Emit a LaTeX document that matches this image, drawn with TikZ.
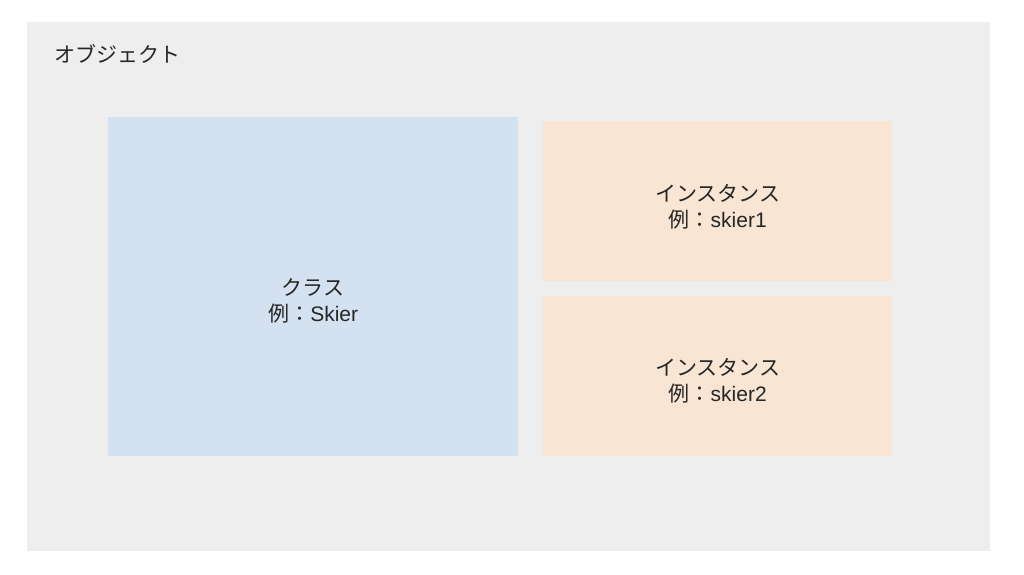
\documentclass[tikz,border=0pt]{standalone}
\usepackage{fontspec}
\setmainfont{Liberation Sans}
\newfontfamily\jp{Noto Sans CJK JP}
\definecolor{bggray}{RGB}{238,238,238}
\definecolor{clsblue}{RGB}{212,225,240}
\definecolor{insorange}{RGB}{248,229,211}
\begin{document}
\begin{tikzpicture}[x=1pt,y=-1pt,
  txt/.style={align=center,font=\fontsize{21}{26}\selectfont,text=black!85},
  box/.style={draw=none,inner sep=0pt}]
\useasboundingbox (0,0) rectangle (1024,574);
\fill[white] (0,0) rectangle (1024,574);
\fill[bggray] (27,22) rectangle (990,551);
\node[box,fill=clsblue,minimum width=410pt,minimum height=339pt,anchor=north west] (cls) at (108,117) {};
\node[box,fill=insorange,minimum width=349pt,minimum height=160pt,anchor=north west] (ins1) at (543,121) {};
\node[box,fill=insorange,minimum width=349pt,minimum height=160pt,anchor=north west] (ins2) at (543,296) {};
\node[txt,anchor=west] (obj) at (51,54) {\jp オブジェクト};
\node[txt] (clst) at ([yshift=-14pt]cls.center) {{\jp クラス}\\{\jp 例：}Skier};
\node[txt] (ins1t) at ([yshift=-6pt]ins1.center) {{\jp インスタンス}\\{\jp 例：}skier1};
\node[txt] (ins2t) at ([yshift=-5pt]ins2.center) {{\jp インスタンス}\\{\jp 例：}skier2};
\end{tikzpicture}
\end{document}
